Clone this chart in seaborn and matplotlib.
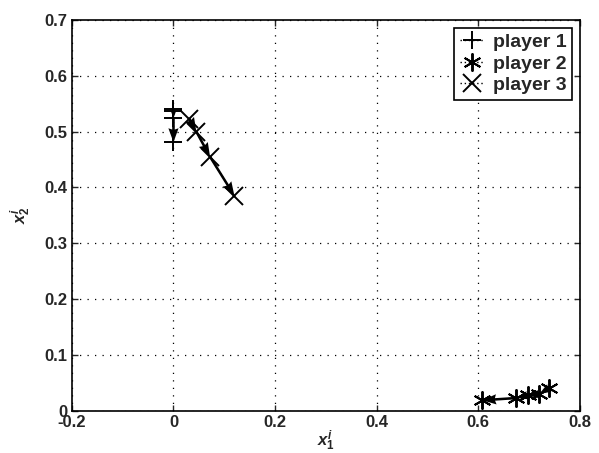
import numpy as np
import pandas as pd
import matplotlib
matplotlib.use('Agg')
import matplotlib.pyplot as plt
import seaborn as sns

# trajectories
p1_x = [0.0, 0.0, 0.0, 0.0]
p1_y = [0.540, 0.537, 0.524, 0.481]
p2_x = [0.740, 0.720, 0.697, 0.675, 0.608]
p2_y = [0.041, 0.030, 0.028, 0.023, 0.019]
p3_x = [0.031, 0.045, 0.072, 0.120]
p3_y = [0.523, 0.500, 0.455, 0.385]

players = ['player 1', 'player 2', 'player 3']
markers = ['+', (6, 2, 0), 'x']
xs = [p1_x, p2_x, p3_x]
ys = [p1_y, p2_y, p3_y]

sns.set_style('ticks')
plt.rcParams['font.family'] = ['Liberation Sans', 'DejaVu Sans']
plt.rcParams['font.weight'] = 'bold'
plt.rcParams['mathtext.fontset'] = 'custom'
plt.rcParams['mathtext.it'] = 'Liberation Sans:italic'
plt.rcParams['mathtext.rm'] = 'Liberation Sans'

fig = plt.figure(figsize=(5.99, 4.53), dpi=100)
ax = fig.add_axes([0.12, 0.093, 0.848, 0.863])

for name, mk, x, y in zip(players, markers, xs, ys):
    df = pd.DataFrame({'x': x, 'y': y})
    sns.lineplot(data=df, x='x', y='y', sort=False, estimator=None, ax=ax,
                 color='black', linestyle=(0, (1, 2)), linewidth=1.0,
                 marker=mk, markersize=13, markeredgewidth=1.4,
                 markeredgecolor='black', label=name)
    xa = np.array(x)
    ya = np.array(y)
    ax.quiver(xa[:-1], ya[:-1], xa[1:] - xa[:-1], ya[1:] - ya[:-1],
              angles='xy', scale_units='xy', scale=1, color='black',
              width=0.005, headwidth=4, headlength=5.5, headaxislength=5)

ax.set_xlim(-0.2, 0.8)
ax.set_ylim(0, 0.7)
ax.set_xticks([-0.2, 0, 0.2, 0.4, 0.6, 0.8])
ax.set_xticklabels(['-0.2', '0', '0.2', '0.4', '0.6', '0.8'])
ax.set_yticks([0, 0.1, 0.2, 0.3, 0.4, 0.5, 0.6, 0.7])
ax.set_yticklabels(['0', '0.1', '0.2', '0.3', '0.4', '0.5', '0.6', '0.7'])
ax.tick_params(direction='in', top=True, right=True, labelsize=12, length=4, width=1)
ax.tick_params(axis='x', pad=3)
for s in ax.spines.values():
    s.set_visible(True)
    s.set_linewidth(1.2)
    s.set_color('black')
ax.grid(True, linestyle=(0, (1, 5)), color='black', linewidth=0.9)

ax.set_xlabel(r'$x_1^i$', fontsize=12, labelpad=-1)
ax.set_ylabel(r'$x_2^i$', fontsize=12, labelpad=8)

leg = ax.legend(loc='upper right', fontsize=14, frameon=True, fancybox=False,
                edgecolor='black', framealpha=1, handlelength=1.3,
                borderpad=0.3, labelspacing=0.2, handletextpad=0.4,
                borderaxespad=0.4)
leg.get_frame().set_linewidth(1.2)
for t in leg.get_texts():
    t.set_fontweight('bold')

fig.savefig('out.png', dpi=100)
